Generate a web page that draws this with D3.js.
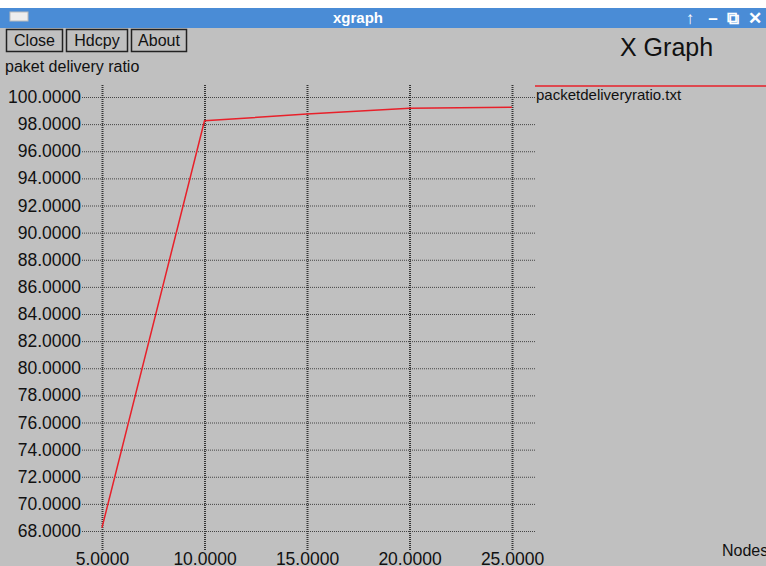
<!DOCTYPE html>
<html>
<head>
<meta charset="utf-8">
<script src="https://cdn.jsdelivr.net/npm/d3@7"></script>
<style>
  body { margin: 0; background: #fff; overflow: hidden; }
  text { font-family: "Liberation Sans", Arial, sans-serif; }
</style>
</head>
<body>
<div id="vis"></div>
<script>
// nodes vs packet delivery ratio
var nodes = [5, 10, 15, 20, 25];
var pdr = [68.25, 98.25, 98.74, 99.17, 99.24];
var xTicks = [5, 10, 15, 20, 25];
var yTicks = d3.range(68, 101, 2);

var W = 766, H = 566;
var svg = d3.select("#vis").append("svg").attr("width", W).attr("height", H);

// window frame
svg.append("rect").attr("x", 0).attr("y", 0).attr("width", W).attr("height", H).attr("fill", "#c0c0c0");
svg.append("rect").attr("x", 0).attr("y", 0).attr("width", W).attr("height", 8).attr("fill", "#fff");
svg.append("rect").attr("x", 0).attr("y", 8).attr("width", W).attr("height", 20).attr("fill", "#4a8cd6");
svg.append("rect").attr("x", 10).attr("y", 12).attr("width", 18).attr("height", 9)
  .attr("fill", "#eee").attr("stroke", "#bbb");
svg.append("text").attr("x", 358).attr("y", 23).attr("text-anchor", "middle")
  .attr("fill", "#fff").attr("font-weight", "bold").attr("font-size", 15).text("xgraph");
[{t: "↑", x: 690}, {t: "–", x: 713}, {t: "⧉", x: 733}, {t: "✕", x: 755}].forEach(c => {
  svg.append("text").attr("x", c.x).attr("y", 24).attr("text-anchor", "middle")
    .attr("fill", "#fff").attr("font-size", 17).attr("font-weight", "bold").text(c.t);
});

var buttons = [{t: "Close", x: 6, w: 56}, {t: "Hdcpy", x: 66, w: 61}, {t: "About", x: 131, w: 55}];
buttons.forEach(b => {
  svg.append("rect").attr("x", b.x + 0.5).attr("y", 29.5).attr("width", b.w).attr("height", 22)
    .attr("fill", "none").attr("stroke", "#222").attr("stroke-width", 1.5);
  svg.append("text").attr("x", b.x + b.w / 2 + 0.5).attr("y", 46).attr("text-anchor", "middle")
    .attr("font-size", 16).attr("fill", "#111").text(b.t);
});

svg.append("text").attr("x", 620).attr("y", 56).attr("font-size", 25).attr("fill", "#111").text("X Graph");
svg.append("text").attr("x", 5).attr("y", 72).attr("font-size", 16).attr("fill", "#111").text("paket delivery ratio");

var x = d3.scaleLinear().domain([5, 25]).range([102, 512]);
var y = d3.scaleLinear().domain([68, 100]).range([531, 97]);

var gl = 82, gr = 535, gt = 85, gb = 550;

var ya = svg.append("g").attr("transform", "translate(" + gl + ",0)")
  .call(d3.axisLeft(y).tickValues(yTicks).tickSize(-(gr - gl)).tickPadding(1)
    .tickFormat(d3.format(".4f")));
ya.select(".domain").remove();
ya.selectAll("line").attr("stroke", "#444").attr("stroke-dasharray", "1,1");
ya.selectAll("text").attr("font-size", 17.5).attr("fill", "#111")
  .style("font-family", "'Liberation Sans', Arial, sans-serif");

var xa = svg.append("g").attr("transform", "translate(0," + gb + ")")
  .call(d3.axisBottom(x).tickValues(xTicks).tickSize(-(gb - gt)).tickPadding(3)
    .tickFormat(d3.format(".4f")));
xa.select(".domain").remove();
xa.selectAll("line").attr("stroke", "#333").attr("stroke-width", 2).attr("stroke-dasharray", "1,1");
xa.selectAll("text").attr("font-size", 17.5).attr("fill", "#111")
  .style("font-family", "'Liberation Sans', Arial, sans-serif");

svg.append("path")
  .datum(nodes.map((n, i) => [n, pdr[i]]))
  .attr("fill", "none")
  .attr("stroke", "#e8202a")
  .attr("stroke-width", 1.5)
  .attr("d", d3.line().x(d => x(d[0])).y(d => y(d[1])));

// legend
svg.append("line").attr("x1", 535).attr("x2", W).attr("y1", 86).attr("y2", 86)
  .attr("stroke", "#e8202a").attr("stroke-width", 1.5);
svg.append("text").attr("x", 536).attr("y", 100).attr("font-size", 15).attr("fill", "#111")
  .text("packetdeliveryratio.txt");

svg.append("text").attr("x", 722).attr("y", 556).attr("font-size", 16).attr("fill", "#111").text("Nodes");
</script>
</body>
</html>
